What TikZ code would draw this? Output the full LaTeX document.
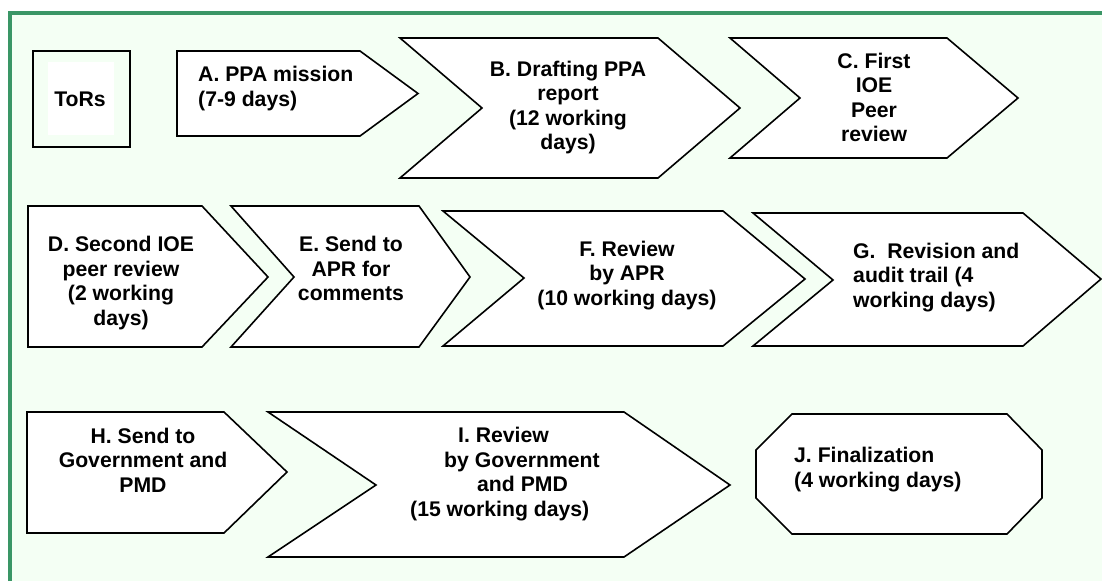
\documentclass[tikz,border=0pt]{standalone}
\usepackage{fontspec}
\setmainfont{Liberation Sans}
\definecolor{bgg}{RGB}{244,255,244}
\definecolor{frameg}{RGB}{58,150,102}
\begin{document}
\begin{tikzpicture}[x=1pt,y=-1pt,
  stage/.style={draw=black,fill=white,line width=1.6pt,line join=miter},
  lbl/.style={inner sep=0pt,font=\fontsize{21.2}{24.4}\selectfont\bfseries},
  lblc/.style={lbl,align=center,anchor=base},
  lbll/.style={lbl,align=left,anchor=base west}]
\useasboundingbox (0,0) rectangle (1102,581);
\fill[white] (0,0) rectangle (1102,581);
\fill[bgg] (10,13) rectangle (1102,581);
\draw[frameg,line width=4pt] (10,581) -- (10,13) -- (1102,13);
% ToRs
\draw[stage,fill=bgg] (33,51) rectangle (130,147);
\fill[white] (48,62) rectangle (114,135);
\node[lblc] (tors) at (80,106) {ToRs};
% Row 1
\draw[stage] (177,51) -- (360,51) -- (418,93.5) -- (360,136) -- (177,136) -- cycle;
\node[lbll] (a) at (198,106) {A. PPA mission\\(7-9 days)};
\draw[stage] (400,38) -- (658,38) -- (740,108) -- (658,178) -- (400,178) -- (482,108) -- cycle;
\node[lblc] (b) at (568,149.5) {B. Drafting PPA\\report\\(12 working\\days)};
\draw[stage] (730,38) -- (947,38) -- (1018,98) -- (947,158) -- (730,158) -- (800,98) -- cycle;
\node[lblc] (c) at (874,141.5) {C. First\\IOE\\Peer\\review};
% Row 2
\draw[stage] (28,206) -- (202,206) -- (268,277) -- (202,347) -- (28,347) -- cycle;
\node[lblc] (d) at (121,325) {D. Second IOE\\peer review\\(2 working\\days)};
\draw[stage] (231,206) -- (419,206) -- (470,277) -- (419,347) -- (231,347) -- (294,277) -- cycle;
\node[lblc] (e) at (351,300.5) {E. Send to\\APR for\\comments};
\draw[stage] (443,211) -- (723,211) -- (805,279) -- (723,346) -- (443,346) -- (524,278) -- cycle;
\node[lblc] (f) at (627,305) {F. Review\\by APR\\(10 working days)};
\draw[stage] (753,213) -- (1023,213) -- (1101,279) -- (1023,346) -- (753,346) -- (833,280) -- cycle;
\node[lbll] (g) at (853,307) {G.~~Revision and\\audit trail (4\\working days)};
% Row 3
\draw[stage] (27,412) -- (224,412) -- (287,472) -- (224,533) -- (27,533) -- cycle;
\node[lblc] (h) at (143,492) {H. Send to\\Government and\\PMD};
\draw[stage] (268,412) -- (624,412) -- (730,485) -- (624,557) -- (268,557) -- (376,485) -- cycle;
\node[lbll] (i) at (410,516) {\hspace*{48pt}I. Review\\\hspace*{34pt}by Government\\\hspace*{67pt}and PMD\\(15 working days)};
\draw[stage] (756,450) -- (792,414) -- (1007,414) -- (1042,450) -- (1042,498) -- (1007,534) -- (792,534) -- (756,498) -- cycle;
\node[lbll] (j) at (794,487) {J. Finalization\\(4 working days)};
\end{tikzpicture}
\end{document}
